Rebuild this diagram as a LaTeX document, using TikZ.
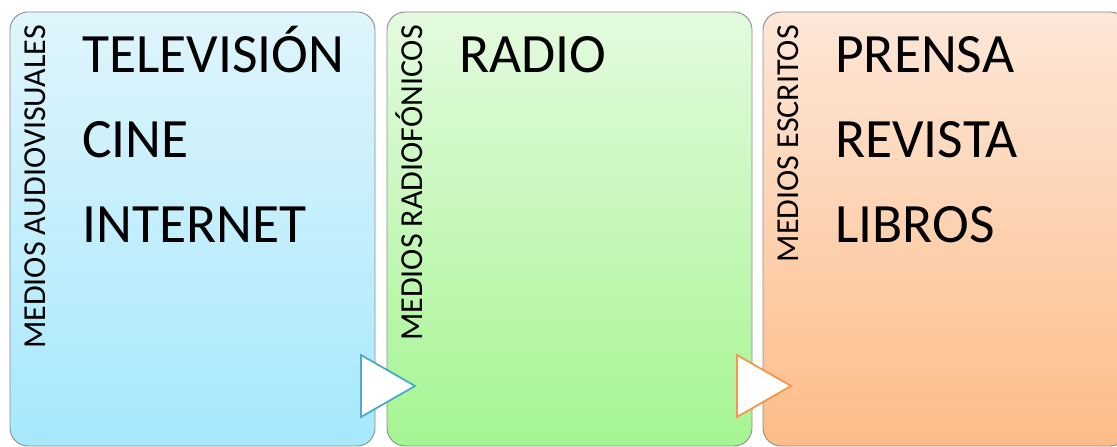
\documentclass[tikz,border=0pt]{standalone}
\usepackage{fontspec}
\setmainfont{Carlito}
\begin{document}
\begin{tikzpicture}[x=1pt,y=1pt,
  panel/.style={draw=black!45,line width=0.9pt,rounded corners=18pt,minimum width=365pt,minimum height=434pt,inner sep=0pt},
  sidelabel/.style={rotate=90,anchor=base east,inner sep=0pt,font=\fontsize{32}{32}\selectfont},
  item/.style={anchor=base west,inner sep=0pt,font=\fontsize{55.5}{55.5}\selectfont},
  arrowtri/.style={fill=white,line width=1.8pt,line join=miter}]
\useasboundingbox (0,0) rectangle (1117,447);
\begin{scope}
\clip (0,0) rectangle (1117,447);
\node[panel,top color={rgb,255:red,224;green,245;blue,252},bottom color={rgb,255:red,166;green,232;blue,253}] (b1) at (192.5,218) {};
\node[panel,top color={rgb,255:red,228;green,250;blue,223},bottom color={rgb,255:red,165;green,245;blue,146}] (b2) at (569.5,218) {};
\node[panel,top color={rgb,255:red,253;green,231;blue,216},bottom color={rgb,255:red,253;green,188;blue,136}] (b3) at (945.5,218) {};
\end{scope}
% side labels
\node[sidelabel] (l1) at (45.5,422) {MEDIOS AUDIOVISUALES};
\node[sidelabel] (l2) at (422.5,422) {MEDIOS RADIOFÓNICOS};
\node[sidelabel] (l3) at (798.5,422) {MEDIOS ESCRITOS};
% items
\node[item] (t1) at (82,374) {TELEVISIÓN};
\node[item] (t2) at (82,289) {CINE};
\node[item] (t3) at (82,204) {INTERNET};
\node[item] (t4) at (459,374) {RADIO};
\node[item] (t5) at (835,374) {PRENSA};
\node[item] (t6) at (835,289) {REVISTA};
\node[item] (t7) at (835,204) {LIBROS};
% arrows between panels
\draw[arrowtri,draw={rgb,255:red,75;green,172;blue,198}] (361,92) -- (361,30) -- (415,61) -- cycle;
\draw[arrowtri,draw={rgb,255:red,247;green,150;blue,70}] (737,92) -- (737,30) -- (791,61) -- cycle;
\end{tikzpicture}
\end{document}
